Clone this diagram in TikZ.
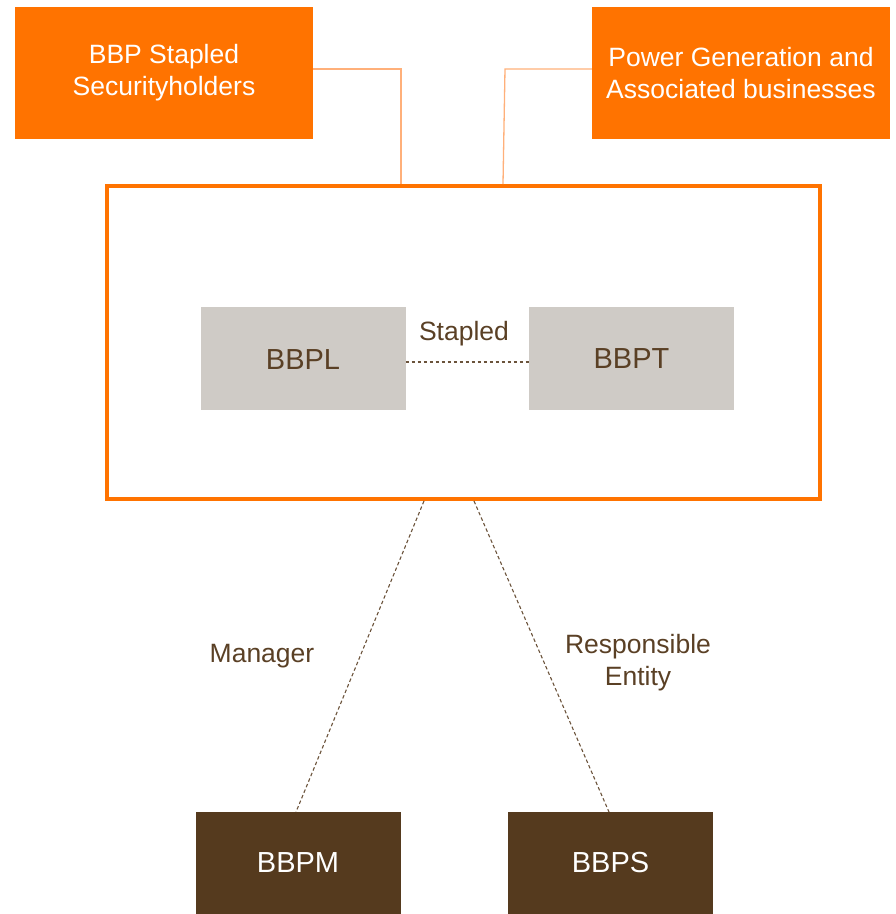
\documentclass[tikz,border=0pt]{standalone}
\usepackage{fontspec}
\setmainfont{Liberation Sans}
\definecolor{orng}{HTML}{FF7300}
\definecolor{lorng}{HTML}{FFB07A}
\definecolor{greybox}{HTML}{CFCBC6}
\definecolor{brownbox}{HTML}{553A1E}
\definecolor{browntxt}{HTML}{5A4025}
\begin{document}
\begin{tikzpicture}[x=1pt,y=-1pt,
  topbox/.style={fill=orng, draw=none, minimum width=298pt, minimum height=132pt, text=white, align=center, font=\fontsize{26.5}{32}\selectfont, inner sep=0pt},
  greyb/.style={fill=greybox, draw=none, minimum width=205pt, minimum height=103pt, text=browntxt, font=\fontsize{29}{34}\selectfont, inner sep=0pt},
  brownb/.style={fill=brownbox, draw=none, minimum width=205pt, minimum height=102pt, text=white, font=\fontsize{29}{34}\selectfont, inner sep=0pt},
  lbl/.style={text=browntxt, align=center, font=\fontsize{26.5}{32}\selectfont, inner sep=0pt},
  linkline/.style={draw=lorng, line width=1.3pt},
  dashline/.style={draw=browntxt!90, line width=1.1pt, dash pattern=on 3.5pt off 2.5pt}
]
\useasboundingbox (0,0) rectangle (896,914);
\node[topbox] (sec) at (164,73) {BBP Stapled\\Securityholders};
\node[topbox] (pow) at (741,73) {Power Generation and\\Associated businesses};
\node[draw=orng, line width=4pt, minimum width=713pt, minimum height=313pt, inner sep=0pt] (big) at (463.5,342.5) {};
\node[greyb, text depth=0pt] (bbpl) at (303,358.5) {\raisebox{-3pt}{BBPL}};
\node[greyb] (bbpt) at (631.5,358.5) {\raisebox{-3pt}{BBPT}};
\node[brownb] (bbpm) at (298,863) {\raisebox{-2pt}{BBPM}};
\node[brownb] (bbps) at (610.5,863) {\raisebox{-2pt}{BBPS}};
\coordinate (c1) at (401,184);
\coordinate (c2) at (503,184);
\coordinate (e1) at (401,69);
\coordinate (e2) at (505,69);
\draw[linkline] (sec.east |- e1) -- (e1) -- (c1);
\draw[linkline] (pow.west |- e2) -- (e2) -- (c2);
\draw[dashline] (bbpl.east |- 0,362) -- (bbpt.west |- 0,362);
\node[lbl] (stap) at (464,334) {Stapled};
\coordinate (m1) at (424,501);
\coordinate (m2) at (296,812);
\coordinate (r1) at (474,501);
\coordinate (r2) at (609,812);
\draw[dashline] (m1) -- (m2);
\draw[dashline] (r1) -- (r2);
\node[lbl] (mgr) at (262,656) {Manager};
\node[lbl] (re) at (638,663) {Responsible\\Entity};
\end{tikzpicture}
\end{document}
